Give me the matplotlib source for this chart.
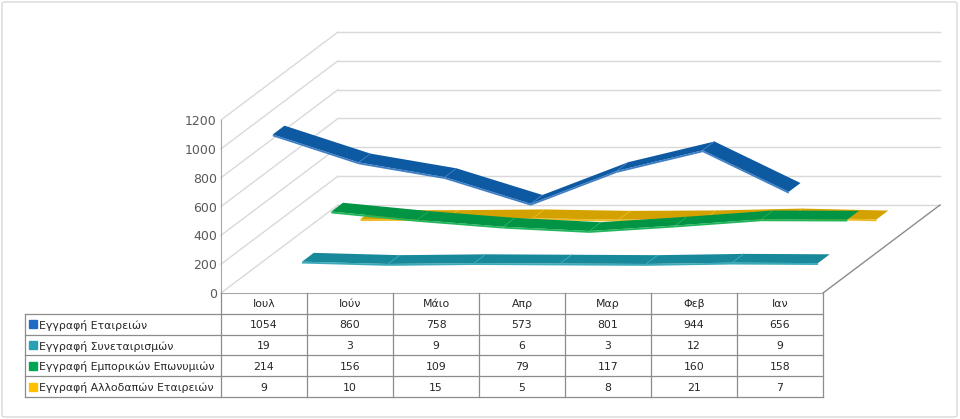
import numpy as np
import matplotlib
matplotlib.use('Agg')
import matplotlib.pyplot as plt
from matplotlib.patches import FancyBboxPatch

# Дані з таблиці графіка
months = ['Ιουλ', 'Ιούν', 'Μάιο', 'Απρ', 'Μαρ', 'Φεβ', 'Ιαν']
series_names = ['Εγγραφή Εταιρειών', 'Εγγραφή Συνεταιρισμών',
                'Εγγραφή Εμπορικών Επωνυμιών', 'Εγγραφή Αλλοδαπών Εταιρειών']
etaireies = [1054, 860, 758, 573, 801, 944, 656]
synetairismoi = [19, 3, 9, 6, 3, 12, 9]
emporikes = [214, 156, 109, 79, 117, 160, 158]
allodapes = [9, 10, 15, 5, 8, 21, 7]
y_ticks = [0, 200, 400, 600, 800, 1000, 1200]

# Кольори: (верх стрічки, світла грань, квадрат легенди)
colors = [('#0d5aa2', '#3f7fc6', '#1f6bc4'),
          ('#17899a', '#3aaabb', '#26a1b6'),
          ('#009444', '#22b65c', '#00a651'),
          ('#d4a200', '#ecbc20', '#ffc000')]

W, H = 960, 419
CAT_PX = 602 / 7
DX = 117 / CAT_PX          # глибина по x (у категоріях)
DY = 88 / (173 / 1200)     # глибина по y (у значеннях)
THICK = 13                 # товщина передньої грані


def proj(x, v, d):
    return x + DX * d, v + DY * d


def draw_walls(ax):
    n = len(months)
    for v in y_ticks:
        x0, y0 = proj(-0.5, v, 1)
        x1, y1 = proj(n - 0.5, v, 1)
        ax.plot([x0, x1], [y0, y1], color='#d9d9d9', lw=1, clip_on=False, zorder=1)
        ax.plot([-0.5, x0], [v, y0], color='#d9d9d9', lw=1, clip_on=False, zorder=1)
    xr, yr = proj(n - 0.5, 0, 1)
    ax.plot([n - 0.5, xr], [0, yr], color='#8c8c8c', lw=1, clip_on=False, zorder=1)


def draw_ribbon(ax, values, k):
    top, light, _ = colors[k]
    d0 = (k + 0.5) / 4 - 0.05
    d1 = d0 + 0.1
    z = 10 - k
    for i in range(len(values) - 1):
        v1, v2 = values[i], values[i + 1]
        a = proj(i, v1, d0)
        b = proj(i + 1, v2, d0)
        c = proj(i + 1, v2, d1)
        e = proj(i, v1, d1)
        fa = proj(i, v1 - THICK, d0)
        fb = proj(i + 1, v2 - THICK, d0)
        ax.fill([a[0], b[0], fb[0], fa[0]], [a[1], b[1], fb[1], fa[1]],
                color=light, lw=0, clip_on=False, zorder=z)
        ax.fill([a[0], b[0], c[0], e[0]], [a[1], b[1], c[1], e[1]],
                color=top, lw=0, clip_on=False, zorder=z)
        if i > 0:
            ax.plot([a[0], e[0]], [a[1], e[1]], color=light, lw=0.6,
                    alpha=0.7, clip_on=False, zorder=z)


def draw_table(fig, data):
    n = len(months)
    lw_cat = 196 / CAT_PX
    tab = fig.add_axes([25 / W, (H - 397) / H, 798 / W, 104 / H])
    tab.set_xlim(-0.5 - lw_cat, n - 0.5)
    tab.set_ylim(5, 0)
    tab.axis('off')
    line = dict(color='#8c8c8c', lw=0.9, clip_on=False)
    for xb in np.arange(-0.5, n, 1.0):
        tab.plot([xb, xb], [0, 5], **line)
    tab.plot([-0.5 - lw_cat] * 2, [1, 5], **line)
    for yb in range(1, 6):
        tab.plot([-0.5 - lw_cat, n - 0.5], [yb, yb], **line)
    for i, m in enumerate(months):
        tab.text(i, 0.55, m, ha='center', va='center', fontsize=7.8, color='#262626')
    for k, (name, vals) in enumerate(zip(series_names, data)):
        yy = k + 1.55
        tab.plot([-0.5 - lw_cat + 8 / CAT_PX], [yy - 0.05], marker='s', ms=5.5,
                 color=colors[k][2], clip_on=False)
        tab.text(-0.5 - lw_cat + 14 / CAT_PX, yy, name, ha='left', va='center',
                 fontsize=7.8, color='#262626')
        for i, v in enumerate(vals):
            tab.text(i, yy, str(v), ha='center', va='center', fontsize=7.8, color='#262626')


def main():
    data = [etaireies, synetairismoi, emporikes, allodapes]
    fig = plt.figure(figsize=(W / 100, H / 100), dpi=100)
    fig.patches.append(FancyBboxPatch((2 / W, 2 / H), 955 / W, 415 / H,
                                      boxstyle='round,pad=0,rounding_size=0.004',
                                      transform=fig.transFigure, fill=False,
                                      edgecolor='#d9d9d9', lw=1))
    ax = fig.add_axes([221 / W, (H - 293) / H, 602 / W, 173 / H])
    ax.set_xlim(-0.5, len(months) - 0.5)
    ax.set_ylim(0, 1200)
    for s in ['top', 'right']:
        ax.spines[s].set_visible(False)
    ax.spines['left'].set_color('#a6a6a6')
    ax.spines['bottom'].set_color('#a6a6a6')
    ax.set_yticks(y_ticks)
    ax.set_xticks([])
    ax.tick_params(axis='y', length=0, pad=3, labelsize=9, labelcolor='#595959')
    ax.patch.set_alpha(0)

    draw_walls(ax)
    for k in range(3, -1, -1):
        draw_ribbon(ax, data[k], k)
    draw_table(fig, data)

    fig.savefig('out.png', dpi=100)


if __name__ == '__main__':
    main()
